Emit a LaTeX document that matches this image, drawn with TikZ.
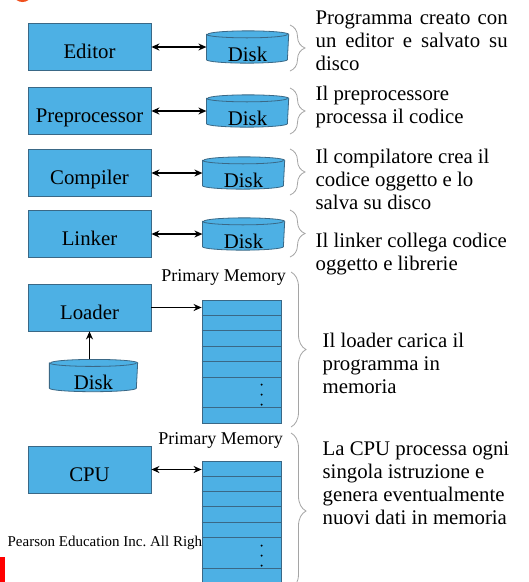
\documentclass[tikz,border=0pt]{standalone}
\usepackage{fontspec}
\setmainfont{Liberation Serif}
\usepackage{tikz}
\usetikzlibrary{positioning}
\usetikzlibrary{backgrounds}
\usetikzlibrary{decorations.pathreplacing}
\usetikzlibrary{calc}
\usetikzlibrary{arrows.meta}
\definecolor{boxblue}{RGB}{77,176,228}
\definecolor{boxline}{RGB}{58,104,134}
\definecolor{braceg}{RGB}{165,165,165}
\definecolor{blobred}{RGB}{240,80,30}

\begin{document}
\begin{tikzpicture}[
            x = 1pt, y = -1pt, % work on the pixel grid, y going down
            > = {Stealth[length = 8pt, width = 7pt]}, % arrow head style
            line width = 1.3pt,
            font = \fontsize{20.8}{23}\selectfont
        ]

        \tikzstyle{stage}=[
            draw = boxline,
            line width = 0.8pt,
            fill = boxblue,
            minimum width = 123pt,
            minimum height = 47pt,
            inner sep = 0pt,
            text height = 23pt,
            text depth = 0pt
        ]
        \tikzstyle{diskunit}=[
            minimum width = 81pt,
            minimum height = 31pt,
            inner sep = 0pt,
            text height = 28pt,
            text depth = 0pt
        ]
        \tikzstyle{memory}=[
            draw = boxline,
            line width = 0.8pt,
            fill = boxblue,
            minimum width = 79pt,
            minimum height = 123pt,
            inner sep = 0pt
        ]
        \tikzstyle{memlabel}=[anchor = base east, inner sep = 0pt, font = \fontsize{18}{21}\selectfont]
        \tikzstyle{note}=[anchor = north west, align = left, inner sep = 0pt]
        \tikzstyle{brc}=[draw = braceg, line width = 0.8pt, decorate, decoration = {brace, amplitude = 15pt}]

        \useasboundingbox (0,0) rectangle (529,582);

        % page decorations
        \fill[blobred] (22.5,-4) ellipse (8 and 6);
        \fill[red] (0,557) rectangle (5,582);
        \node[anchor = base west, inner sep = 0pt, font = \fontsize{15}{18}\selectfont] (pearson) at (7,546) {Pearson Education Inc.\ All Righ};

        % tool chain
        \node[stage] (editor) at (89.5,47) {Editor};
        \node[stage] (prep) at (89.5,111) {Preprocessor};
        \node[stage] (comp) at (89.5,173) {Compiler};
        \node[stage] (link) at (89.5,234) {Linker};

        \node[diskunit, right = 55pt of editor] (edisk) {Disk};
        \node[diskunit, right = 55pt of prep] (pdisk) {Disk};
        \node[diskunit, right = 51pt of comp] (cdisk) {Disk};
        \node[diskunit, right = 51pt of link] (ldisk) {Disk};

        \draw[<->] (editor.east) -- (editor.east -| edisk.west);
        \draw[<->] (prep.east) -- (prep.east -| pdisk.west);
        \draw[<->] (comp.east) -- (comp.east -| cdisk.west);
        \draw[<->] (link.east) -- (link.east -| ldisk.west);

        % loading and running
        \node[stage] (loader) at (89.5,307.5) {Loader};
        \node[stage] (cpu) at (89.5,469.5) {CPU};
        \node[diskunit, minimum width = 87pt, below = 28pt of loader, xshift = 4pt] (srcdisk) {Disk};

        \node[memory] (mem1) at (241.5,361.5) {};
        \node[memory, minimum height = 122.4pt] (mem2) at (241.5,522.2) {};

        \foreach \m in {mem1, mem2} {
            \foreach \k in {1,...,5,7}
                \draw[boxline, line width = 0.9pt] ($(\m.north west)!\k/8!(\m.south west)$) -- ($(\m.north east)!\k/8!(\m.south east)$);
            \foreach \d in {85,95,105}
                \fill ($(\m.north west)+(60,\d)$) circle (1.1pt);
        }

        \node[memlabel] (pm1) at ($(mem1.north east)+(5,-18)$) {Primary Memory};
        \node[memlabel] (pm2) at ($(mem2.north east)+(2,-16)$) {Primary Memory};

        \draw[->] (srcdisk.north -| loader.south) -- (loader.south);
        \draw[->] (loader.east) -- (loader.east -| mem1.west);
        \draw[<->] (cpu.east) -- (cpu.east -| mem2.west);

        % disk bodies behind their labels
        \begin{scope}[on background layer]
        \fill[white] (0,0) rectangle (529,582);
        \foreach \dk/\rx in {edisk/40.5, pdisk/40.5, cdisk/40.5, ldisk/40.5, srcdisk/43.5} {
            \filldraw[fill = boxblue, draw = boxline, line width = 0.8pt]
                ($(\dk.north west)+(0,3.5)$) -- ($(\dk.south west)+(0,-3.5)$)
                arc [start angle = 180, end angle = 0, x radius = \rx, y radius = 3.5]
                -- ($(\dk.north east)+(0,3.5)$)
                arc [start angle = 0, end angle = -180, x radius = \rx, y radius = 3.5] -- cycle;
            \draw[boxline, line width = 0.8pt] ($(\dk.north west)+(0,3.5)$)
                arc [start angle = 180, end angle = 0, x radius = \rx, y radius = 3.5];
        }
        \end{scope}

        % explanations
        \draw[brc] (290,25) -- (290,71);
        \draw[brc] (290,88) -- (290,134);
        \draw[brc] (290,149) -- (290,195);
        \draw[brc] (290,210) -- (290,257);
        \draw[brc] (291,272) -- (291,427);
        \draw[brc] (291,433) -- (291,589);

        \node[note, text width = 192pt, align = justify] (tedit) at (315,10) {Programma creato con\linebreak un editor e salvato su\linebreak disco};
        \node[note] (tprep) at (315,85) {Il preprocessore\\processa il codice};
        \node[note] (tcomp) at (315,148) {Il compilatore crea il\\codice oggetto e lo\\salva su disco};
        \node[note] (tlink) at (315,232.5) {Il linker collega codice\\oggetto e librerie};
        \node[note] (tload) at (322,332) {Il loader carica il\\programma in\\memoria};
        \node[note] (tcpu) at (322,441) {La CPU processa ogni\\singola istruzione e\\genera eventualmente\\nuovi dati in memoria};

\end{tikzpicture}
\end{document}
